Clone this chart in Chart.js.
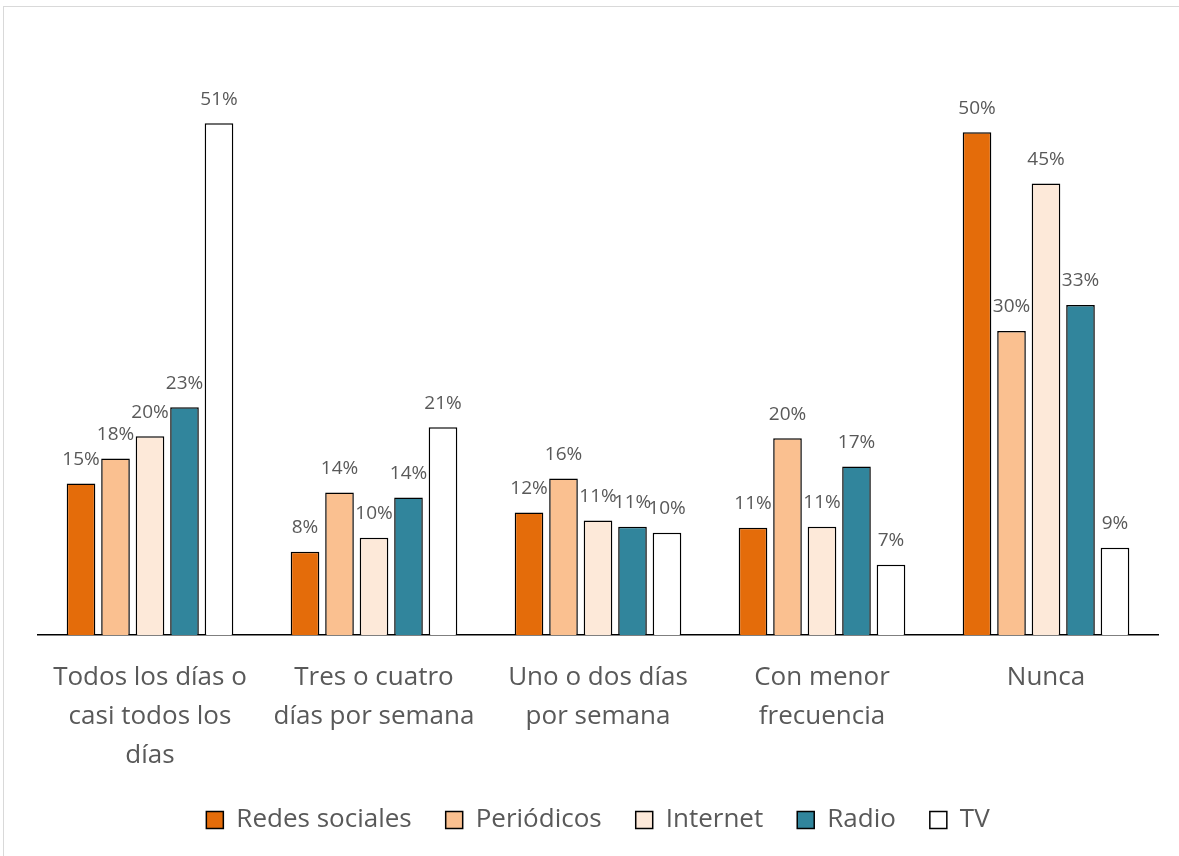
<!DOCTYPE html>
<html>
<head>
<meta charset="utf-8">
<script src="https://cdn.jsdelivr.net/npm/chart.js@4.4.1/dist/chart.umd.min.js"></script>
<style>
  html, body { margin: 0; padding: 0; background: #fff; overflow: hidden; }
  #wrap { position: relative; width: 1179px; height: 856px; }
  #frame { position: absolute; left: 3px; top: 6px; width: 1200px; height: 900px; border: 1px solid #d9d9d9; }
  canvas { position: absolute; left: 0; top: 0; }
</style>
</head>
<body>
<div id="wrap">
  <div id="frame"></div>
  <canvas id="chart" width="1179" height="856"></canvas>
</div>
<script>
// categories (multi-line like the original)
const categories = [
  ['Todos los días o', 'casi todos los', 'días'],
  ['Tres o cuatro', 'días por semana'],
  ['Uno o dos días', 'por semana'],
  ['Con menor', 'frecuencia'],
  ['Nunca']
];

// series values (%)
const redesSociales = [15.1, 8.3, 12.2, 10.7, 50.1];
const periodicos    = [17.6, 14.2, 15.6, 19.6, 30.3];
const internet      = [19.8, 9.7, 11.4, 10.8, 45.0];
const radio         = [22.7, 13.7, 10.8, 16.8, 32.9];
const tv            = [51.0, 20.7, 10.2, 7.0, 8.7];

const seriesNames = ['Redes sociales', 'Periódicos', 'Internet', 'Radio', 'TV'];
const seriesColors = ['#E46C0A', '#FAC090', '#FDE9D9', '#31859C', '#FFFFFF'];

const textColor = '#595959';
const fontFamily = "'Open Sans', 'Noto Sans', sans-serif";

// draw the % labels above each bar
const barLabels = {
  id: 'barLabels',
  afterDatasetsDraw(chart) {
    const ctx = chart.ctx;
    ctx.save();
    ctx.font = '19px ' + fontFamily;
    ctx.fillStyle = textColor;
    ctx.textAlign = 'center';
    ctx.textBaseline = 'middle';
    chart.data.datasets.forEach((ds, i) => {
      const meta = chart.getDatasetMeta(i);
      meta.data.forEach((bar, j) => {
        ctx.fillText(Math.round(ds.data[j]) + '%', bar.x, bar.y - 24);
      });
    });
    ctx.restore();
  }
};

const allSeries = [redesSociales, periodicos, internet, radio, tv];

new Chart(document.getElementById('chart'), {
  type: 'bar',
  data: {
    labels: categories,
    datasets: allSeries.map((vals, i) => ({
      label: seriesNames[i],
      data: vals,
      backgroundColor: seriesColors[i],
      borderColor: '#000000',
      borderWidth: 1.5,
      categoryPercentage: 0.77,
      barPercentage: 0.83
    }))
  },
  options: {
    responsive: false,
    animation: false,
    layout: { padding: { left: 38, right: 21, top: 33, bottom: 13 } },
    scales: {
      y: {
        display: false,
        min: 0,
        max: 60
      },
      x: {
        grid: { display: false, drawTicks: false },
        border: { color: '#000000', width: 1.5 },
        ticks: {
          color: textColor,
          padding: 23,
          font: { family: fontFamily, size: 26, lineHeight: 1.5 },
          maxRotation: 0,
          autoSkip: false
        },
        afterFit(scale) { scale.height = 138; }
      }
    },
    plugins: {
      tooltip: { enabled: false },
      legend: {
        position: 'bottom',
        labels: {
          color: textColor,
          boxWidth: 17,
          boxHeight: 17,
          padding: 34,
          font: { family: fontFamily, size: 26 }
        }
      }
    }
  },
  plugins: [barLabels]
});
</script>
</body>
</html>
